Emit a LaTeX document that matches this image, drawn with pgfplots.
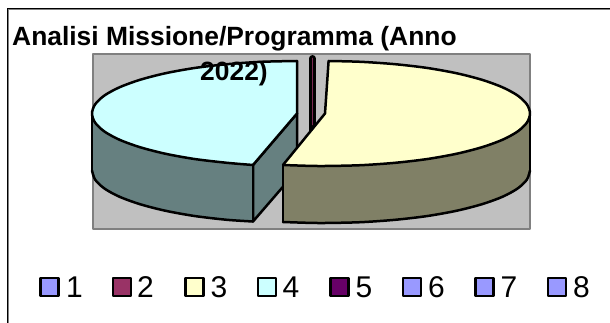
\documentclass[border=0pt]{standalone}
\usepackage{pgfplots}
\pgfplotsset{compat=1.18}
\usepackage{fontspec}
\setmainfont{Liberation Sans}
\definecolor{plotbg}{HTML}{C0C0C0}
\definecolor{plotedge}{HTML}{808080}
\definecolor{cyantop}{HTML}{CCFFFF}
\definecolor{cyanside}{HTML}{668080}
\definecolor{yellowtop}{HTML}{FFFFCC}
\definecolor{yellowside}{HTML}{808066}
\definecolor{lilla}{HTML}{9999FF}
\definecolor{maroon}{HTML}{993366}
\definecolor{violet}{HTML}{660066}
\begin{document}
\begin{tikzpicture}[x=1pt,y=1pt]
\begin{axis}[
    scale only axis,
    width=610pt, height=323pt,
    xmin=0, xmax=610,
    ymin=0, ymax=323,
    y dir=reverse,
    hide axis,
    every axis plot/.append style={line join=round, line cap=round},
]
% page and frame
\addplot[fill=white, draw=none] coordinates {(0,0)(610,0)(610,323)(0,323)} --cycle;
\addplot[draw=plotedge, line width=1pt] coordinates {(8.5,323)(8.5,9.5)(610,9.5)};
\addplot[draw=black, line width=1pt] coordinates {(7.5,323)(7.5,8.5)(610,8.5)};
% plot area
\addplot[fill=plotbg, draw=plotedge, line width=2pt] coordinates {(92.5,54.5)(530,54.5)(530,229)(92.5,229)} --cycle;

% slice 4: side faces
\addplot[fill=cyanside, draw=black, line width=2.5pt] coordinates {(253,165)(253,221.5)(297,170.5)(297,113.5)} --cycle;
\addplot[fill=cyanside, draw=none] coordinates {
    (92,113.5)(95.1,122.6)(104.4,131.5)(119.5,139.75)(140,147.2)(165.2,153.7)(194.5,159)(226.9,162.8)(253,165)
    (253,221.5)(226.9,219.8)(194.5,216)(165.2,210.7)(140,204.2)(119.5,196.75)(104.4,188.5)(95.1,179.6)(92,170.5)} --cycle;
\addplot[draw=black, line width=2.5pt, smooth] coordinates {
    (92,170.5)(95.1,179.6)(104.4,188.5)(119.5,196.75)(140,204.2)(165.2,210.7)(194.5,216)(226.9,219.8)(253,221.5)};
\addplot[draw=black, line width=2.5pt] coordinates {(92,113.5)(92,170.5)};
\addplot[draw=black, line width=2.5pt] coordinates {(253,165)(253,221.5)};
% slice 4: top
\addplot[fill=cyantop, draw=none] coordinates {
    (297,61)(261.4,61.8)(226.9,64.2)(194.5,68)(165.2,73.3)(140,79.8)(119.5,87.3)(104.4,95.5)(95.1,104.4)(92,113.5)
    (95.1,122.6)(104.4,131.5)(119.5,139.75)(140,147.2)(165.2,153.7)(194.5,159)(226.9,162.8)(253,165)(297,113.5)} --cycle;
\addplot[draw=black, line width=2.5pt, smooth] coordinates {
    (297,61)(261.4,61.8)(226.9,64.2)(194.5,68)(165.2,73.3)(140,79.8)(119.5,87.3)(104.4,95.5)(95.1,104.4)(92,113.5)
    (95.1,122.6)(104.4,131.5)(119.5,139.75)(140,147.2)(165.2,153.7)(194.5,159)(226.9,162.8)(253,165)};
\addplot[draw=black, line width=2.5pt] coordinates {(253,165)(297,113.5)(297,61)};

% slices 2 and 5: almost nothing
\addplot[draw=black, line width=7pt] coordinates {(312.4,58.5)(312.4,135)};
\addplot[draw=maroon!80!black, line width=0.5pt] coordinates {(312.6,58)(312.6,125)};

% slice 3: side
\addplot[fill=yellowside, draw=none] coordinates {
    (530,113.5)(526.9,122.6)(517.6,131.5)(502.5,139.75)(482,147.2)(456.8,153.7)(427.5,159)(395.1,162.8)(360.6,165.2)(325,166)(283,165)
    (283,222)(325,223)(360.6,222.2)(395.1,219.8)(427.5,216)(456.8,210.7)(482,204.2)(502.5,196.75)(517.6,188.5)(526.9,179.6)(530,170.5)} --cycle;
\addplot[draw=black, line width=2.5pt, smooth] coordinates {
    (283,222)(307.1,222.8)(325,223)(360.6,222.2)(395.1,219.8)(427.5,216)(456.8,210.7)(482,204.2)(502.5,196.75)(517.6,188.5)(526.9,179.6)(530,170.5)};
\addplot[draw=black, line width=2.5pt] coordinates {(530,113.5)(530,170.5)};
\addplot[draw=black, line width=2.5pt] coordinates {(283,165)(283,222)};
% slice 3: top
\addplot[fill=yellowtop, draw=none] coordinates {
    (328.6,61)(360.6,61.8)(395.1,64.2)(427.5,68)(456.8,73.3)(482,79.8)(502.5,87.3)(517.6,95.5)(526.9,104.4)(530,113.5)
    (526.9,122.6)(517.6,131.5)(502.5,139.75)(482,147.2)(456.8,153.7)(427.5,159)(395.1,162.8)(360.6,165.2)(325,166)(307.1,165.8)(283,165)(325,113.5)} --cycle;
\addplot[draw=black, line width=2.5pt, smooth] coordinates {
    (328.6,61)(360.6,61.8)(395.1,64.2)(427.5,68)(456.8,73.3)(482,79.8)(502.5,87.3)(517.6,95.5)(526.9,104.4)(530,113.5)
    (526.9,122.6)(517.6,131.5)(502.5,139.75)(482,147.2)(456.8,153.7)(427.5,159)(395.1,162.8)(360.6,165.2)(325,166)(307.1,165.8)(283,165)};
\addplot[draw=black, line width=2.5pt] coordinates {(283,165)(325,113.5)(328.6,61)};

% legend keys
\addplot[only marks, mark=square*, mark size=9pt, mark options={fill=lilla, draw=black, line width=2.5pt}] coordinates {(49.5,287)(412,287)(484.5,287)(557,287)};
\addplot[only marks, mark=square*, mark size=9pt, mark options={fill=maroon, draw=black, line width=2.5pt}] coordinates {(122,287)};
\addplot[only marks, mark=square*, mark size=9pt, mark options={fill=yellowtop, draw=black, line width=2.5pt}] coordinates {(194.5,287)};
\addplot[only marks, mark=square*, mark size=9pt, mark options={fill=cyantop, draw=black, line width=2.5pt}] coordinates {(267,287)};
\addplot[only marks, mark=square*, mark size=9pt, mark options={fill=violet, draw=black, line width=2.5pt}] coordinates {(339.5,287)};

% title
\node[anchor=base west, inner sep=0pt, font=\fontsize{26.4}{26.4}\selectfont\bfseries] at (axis cs:12,46) {Analisi Missione/Programma (Anno};
\node[anchor=base, inner sep=0pt, font=\fontsize{26.4}{26.4}\selectfont\bfseries] at (axis cs:234,81) {2022)};
% legend labels
\foreach \xx/\lab in {66/1,137/2,210.4/3,282.5/4,355.5/5,428/6,500.5/7,573/8}{
    \edef\tmp{\noexpand\node[anchor=base west, inner sep=0pt, font=\noexpand\fontsize{30}{30}\noexpand\selectfont] at (axis cs:\xx,297) {\lab};}
    \tmp
}
\end{axis}
\end{tikzpicture}
\end{document}
